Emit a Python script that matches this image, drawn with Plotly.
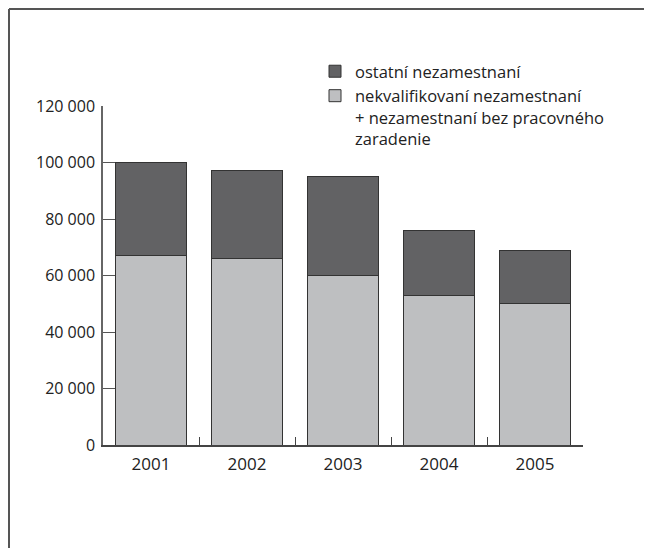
import plotly.graph_objects as go

years = ["2001", "2002", "2003", "2004", "2005"]
unskilled = [67000, 66000, 60000, 53000, 50000]
others = [33000, 31000, 35000, 23000, 19000]
y_ticks = [0, 20000, 40000, 60000, 80000, 100000, 120000]

name_others = "ostatní nezamestnaní"
name_unskilled = "nekvalifikovaní nezamestnaní<br>+ nezamestnaní bez pracovného<br>zaradenie"

FONT = "Open Sans, Liberation Sans, sans-serif"
fig = go.Figure()
fig.add_trace(go.Bar(x=years, y=unskilled, name=name_unskilled,
                     marker=dict(color="#bebfc1", line=dict(color="#333333", width=1))))
fig.add_trace(go.Bar(x=years, y=others, name=name_others,
                     marker=dict(color="#626264", line=dict(color="#333333", width=1))))

# page is offset by 8px (body margin); work in figure coordinates
W, H = 644, 540
L, R, T, B = 95, 69, 98, 103
pw, ph = W - L - R, H - T - B
def px2x(p): return (p - L) / pw
def py2y(p): return 1 - (p - T) / ph

fig.update_layout(
    width=W, height=H,
    margin=dict(l=L, r=R, t=T, b=B, autoexpand=False),
    barmode="stack", bargap=0.27,
    plot_bgcolor="white", paper_bgcolor="white",
    separators=", ",
    font=dict(family=FONT, size=16, color="#222222"),
    legend=dict(traceorder="reversed", x=px2x(307), y=py2y(46), xanchor="left", yanchor="top",
                valign="top", font=dict(size=16.5), bgcolor="rgba(0,0,0,0)", itemwidth=30),
    xaxis=dict(type="category", tickson="boundaries", ticks="inside", ticklen=8,
               tickcolor="#444444", showline=True, linecolor="#444444", linewidth=1.5,
               showgrid=False, zeroline=False, range=[-0.5, 4.5], ticklabelstandoff=3,
               tickfont=dict(size=17)),
    yaxis=dict(range=[0, 120000], tickvals=y_ticks, tickformat=",d", ticks="inside", ticklen=12,
               tickcolor="#555555", showline=True, linecolor="#666666", linewidth=1.5,
               showgrid=False, zeroline=False, ticklabelstandoff=3, tickfont=dict(size=16)),
    shapes=[
        dict(type="line", xref="paper", yref="paper", x0=px2x(1), x1=px2x(W), y0=py2y(1), y1=py2y(1),
             line=dict(color="#555555", width=2)),
        dict(type="line", xref="paper", yref="paper", x0=px2x(1), x1=px2x(1), y0=py2y(1), y1=py2y(H),
             line=dict(color="#555555", width=2)),
    ],
)
fig.write_html("out.html", config={"displayModeBar": False})
